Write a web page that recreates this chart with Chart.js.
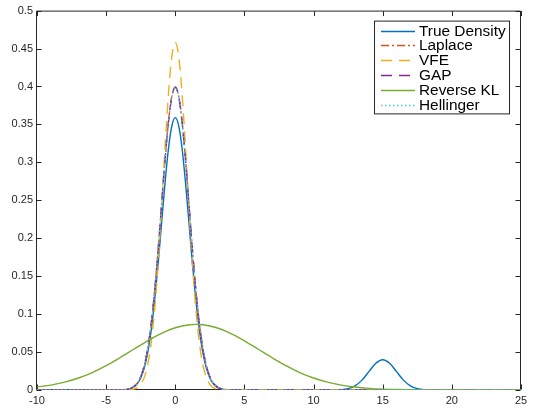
<!DOCTYPE html>
<html>
<head>
<meta charset="utf-8">
<script src="https://cdn.jsdelivr.net/npm/chart.js@4.4.1/dist/chart.umd.min.js"></script>
<style>
html, body { margin: 0; padding: 0; background: #fff; }
#wrap { width: 535px; height: 408px; }
</style>
</head>
<body>
<div id="wrap"><canvas id="densityChart" width="535" height="408"></canvas></div>
<script>
// x positions used by the narrow peaks around zero
const peakX = [-10, -5, -4.5, -4, -3.75, -3.5, -3.25, -3, -2.75, -2.5, -2.25, -2, -1.75, -1.5, -1.25, -1,
    -0.75, -0.5, -0.25, 0, 0.25, 0.5, 0.75, 1, 1.25, 1.5, 1.75, 2, 2.25, 2.5, 2.75, 3, 3.25, 3.5, 3.75, 4,
    4.5, 5, 25];

// true density has a second small bump near 15
const trueX = [-10, -5, -4.5, -4, -3.75, -3.5, -3.25, -3, -2.75, -2.5, -2.25, -2, -1.75, -1.5, -1.25, -1,
    -0.75, -0.5, -0.25, 0, 0.25, 0.5, 0.75, 1, 1.25, 1.5, 1.75, 2, 2.25, 2.5, 2.75, 3, 3.25, 3.5, 3.75, 4,
    4.5, 5, 11, 11.5, 12, 12.5, 13, 13.5, 14, 14.5, 15, 15.5, 16, 16.5, 17, 17.5, 18, 18.5, 19, 25];
const trueY = [0, 0, 0, 0.0001, 0.0003, 0.0008, 0.0018, 0.004, 0.0082, 0.0158, 0.0285, 0.0486, 0.0777, 0.1166,
    0.1643, 0.2178, 0.271, 0.3169, 0.348, 0.359, 0.348, 0.3169, 0.271, 0.2178, 0.1643, 0.1166, 0.0777,
    0.0486, 0.0285, 0.0158, 0.0082, 0.004, 0.0018, 0.0008, 0.0003, 0.0001, 0, 0,
    0, 0.0001, 0.0004, 0.0018, 0.0054, 0.013, 0.0242, 0.0352, 0.0399, 0.0352, 0.0242, 0.013, 0.0054,
    0.0018, 0.0004, 0.0001, 0, 0];

const laplaceY = [0, 0, 0, 0.0001, 0.0004, 0.0009, 0.002, 0.0044, 0.0091, 0.0175, 0.0317, 0.054, 0.0863, 0.1295,
    0.1826, 0.242, 0.3011, 0.3521, 0.3867, 0.3989, 0.3867, 0.3521, 0.3011, 0.242, 0.1826, 0.1295, 0.0863,
    0.054, 0.0317, 0.0175, 0.0091, 0.0044, 0.002, 0.0009, 0.0004, 0.0001, 0, 0, 0];

const vfeY = [0, 0, 0, 0, 0, 0.0001, 0.0004, 0.0012, 0.0031, 0.0074, 0.0163, 0.0328, 0.0609, 0.104,
    0.1636, 0.237, 0.3161, 0.3884, 0.4395, 0.458, 0.4395, 0.3884, 0.3161, 0.237, 0.1636, 0.104, 0.0609,
    0.0328, 0.0163, 0.0074, 0.0031, 0.0012, 0.0004, 0.0001, 0, 0, 0, 0, 0];

const gapY = [0, 0, 0, 0.0001, 0.0004, 0.0009, 0.002, 0.0044, 0.0091, 0.0175, 0.0317, 0.054, 0.0863, 0.1295,
    0.1826, 0.242, 0.3011, 0.3521, 0.3867, 0.3989, 0.3867, 0.3521, 0.3011, 0.242, 0.1826, 0.1295, 0.0863,
    0.054, 0.0317, 0.0175, 0.0091, 0.0044, 0.002, 0.0009, 0.0004, 0.0001, 0, 0, 0];

const hellingerY = [0, 0, 0, 0.0001, 0.0004, 0.0009, 0.002, 0.0044, 0.0091, 0.0175, 0.0317, 0.054, 0.0863, 0.1295,
    0.1826, 0.242, 0.3011, 0.3521, 0.3867, 0.3989, 0.3867, 0.3521, 0.3011, 0.242, 0.1826, 0.1295, 0.0863,
    0.054, 0.0317, 0.0175, 0.0091, 0.0044, 0.002, 0.0009, 0.0004, 0.0001, 0, 0, 0];

// wide single bump
const klX = [-10, -9, -8, -7, -6, -5, -4, -3, -2, -1, 0, 1, 1.5, 2, 3, 4, 5, 6, 7, 8, 9, 10, 11, 12, 13, 14,
    15, 16, 17, 18, 19, 20, 21, 22, 23, 24, 25];
const klY = [0.0039, 0.0065, 0.0104, 0.0158, 0.023, 0.032, 0.0425, 0.0537, 0.0648, 0.0747, 0.082, 0.086, 0.0865,
    0.086, 0.082, 0.0747, 0.0648, 0.0537, 0.0425, 0.032, 0.023, 0.0158, 0.0104, 0.0065, 0.0039, 0.0022,
    0.0012, 0.0006, 0.0003, 0.0001, 0.0001, 0, 0, 0, 0, 0, 0];

const seriesNames = ['True Density', 'Laplace', 'VFE', 'GAP', 'Reverse KL', 'Hellinger'];

const xTicks = [-10, -5, 0, 5, 10, 15, 20, 25];
const xTickLabels = ['-10', '-5', '0', '5', '10', '15', '20', '25'];
const yTicks = [0, 0.05, 0.1, 0.15, 0.2, 0.25, 0.3, 0.35, 0.4, 0.45, 0.5];
const yTickLabels = ['0', '0.05', '0.1', '0.15', '0.2', '0.25', '0.3', '0.35', '0.4', '0.45', '0.5'];

const AXIS_COLOR = '#262626';
const FONT = '"Liberation Sans", Arial, Helvetica, sans-serif';

const pairUp = (xs, ys) => xs.map((x, i) => ({ x: x, y: ys[i] }));

const lineSet = (i, xs, ys, color, dash) => ({
    label: seriesNames[i],
    data: pairUp(xs, ys),
    borderColor: color,
    backgroundColor: color,
    borderWidth: 1.4,
    borderDash: dash,
    pointRadius: 0,
    fill: false,
    cubicInterpolationMode: 'monotone',
    order: 10 - i
});

// box around the plot with inward ticks on every side, drawn under the lines
const axesBox = {
    id: 'axesBox',
    beforeDatasetsDraw(chart)
    {
        const { ctx, chartArea: a, scales } = chart;
        const len = 5;
        const l = a.left - 0.5, r = a.right - 0.5, t = a.top + 0.5, b = a.bottom - 0.5;
        ctx.save();
        ctx.strokeStyle = AXIS_COLOR;
        ctx.lineWidth = 1;
        ctx.beginPath();
        ctx.rect(l, t, r - l, b - t);
        xTicks.forEach(v =>
        {
            const px = Math.round(scales.x.getPixelForValue(v)) + 0.5;
            ctx.moveTo(px, b); ctx.lineTo(px, b - len);
            ctx.moveTo(px, t); ctx.lineTo(px, t + len);
        });
        yTicks.forEach(v =>
        {
            const py = Math.round(scales.y.getPixelForValue(v)) + 0.5;
            ctx.moveTo(l, py); ctx.lineTo(l + len, py);
            ctx.moveTo(r, py); ctx.lineTo(r - len, py);
        });
        ctx.stroke();
        ctx.restore();
    }
};

// boxed legend in the upper right corner
const boxLegend = {
    id: 'boxLegend',
    afterDraw(chart)
    {
        const { ctx, chartArea: a } = chart;
        const sets = chart.data.datasets;
        const w = 135, rowH = 14.8;
        const right = a.right - 12, top = a.top + 10;
        const left = right - w;
        const h = rowH * sets.length + 4;
        ctx.save();
        ctx.fillStyle = '#fff';
        ctx.fillRect(left, top, w, h);
        ctx.strokeStyle = AXIS_COLOR;
        ctx.lineWidth = 1;
        ctx.strokeRect(left + 0.5, top + 0.5, w, h);
        ctx.font = '15.4px ' + FONT;
        ctx.textBaseline = 'middle';
        ctx.textAlign = 'left';
        sets.forEach((ds, i) =>
        {
            const yy = Math.round(top + 10 + i * rowH) + 0.5;
            ctx.strokeStyle = ds.borderColor;
            ctx.lineWidth = ds.borderWidth;
            ctx.setLineDash(ds.borderDash || []);
            ctx.beginPath();
            ctx.moveTo(left + 7, yy);
            ctx.lineTo(left + 41, yy);
            ctx.stroke();
            ctx.setLineDash([]);
            ctx.fillStyle = '#000';
            ctx.fillText(ds.label, left + 45, yy + 0.5);
        });
        ctx.restore();
    }
};

new Chart(document.getElementById('densityChart').getContext('2d'), {
    type: 'line',
    data: {
        datasets: [
            lineSet(0, trueX, trueY, '#0072BD', []),
            lineSet(1, peakX, laplaceY, '#D95319', [8, 3, 2, 3]),
            lineSet(2, peakX, vfeY, '#EDB120', [11, 7]),
            lineSet(3, peakX, gapY, '#7E2F8E', [11, 7]),
            lineSet(4, klX, klY, '#77AC30', []),
            lineSet(5, peakX, hellingerY, '#4DBEEE', [1.5, 2.5])
        ]
    },
    options: {
        responsive: false,
        animation: false,
        devicePixelRatio: 1,
        layout: {
            padding: { top: 8, right: 14, left: 0, bottom: 0 }
        },
        plugins: {
            legend: { display: false },
            tooltip: { enabled: false }
        },
        scales: {
            x: {
                type: 'linear',
                min: -10,
                max: 25,
                grid: { display: false, drawTicks: false },
                border: { display: false },
                afterBuildTicks: (scale) => { scale.ticks = xTicks.map(v => ({ value: v })); },
                afterFit: (scale) => { scale.height = 18; },
                ticks: {
                    padding: 4,
                    maxRotation: 0,
                    autoSkip: false,
                    color: AXIS_COLOR,
                    font: { family: FONT, size: 11 },
                    callback: (value, index) => xTickLabels[index]
                }
            },
            y: {
                type: 'linear',
                min: 0,
                max: 0.5,
                grid: { display: false, drawTicks: false },
                border: { display: false },
                afterBuildTicks: (scale) => { scale.ticks = yTicks.map(v => ({ value: v })); },
                afterFit: (scale) => { scale.width = 37; },
                ticks: {
                    padding: 4,
                    autoSkip: false,
                    color: AXIS_COLOR,
                    font: { family: FONT, size: 11 },
                    callback: (value, index) => yTickLabels[index]
                }
            }
        }
    },
    plugins: [axesBox, boxLegend]
});
</script>
</body>
</html>
